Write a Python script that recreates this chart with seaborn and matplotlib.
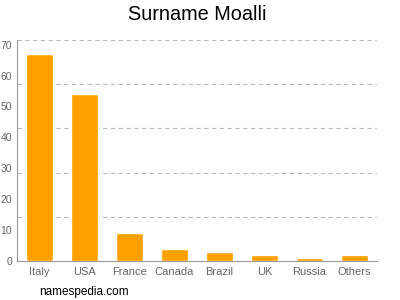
import matplotlib
matplotlib.use("Agg")
import matplotlib.pyplot as plt
import seaborn as sns
import pandas as pd
import numpy as np

countries = ["Italy", "USA", "France", "Canada", "Brazil", "UK", "Russia", "Others"]
counts = [67, 54, 9, 4, 3, 2, 1, 2]
yticks = [0, 10, 20, 30, 40, 50, 60, 70]
ymax = 71.5

sns.set_style("white")
plt.rcParams['font.family'] = ['Liberation Sans', 'DejaVu Sans']

df = pd.DataFrame({"country": countries, "count": counts})

fig = plt.figure(figsize=(4, 3), dpi=100)
ax = fig.add_axes([0.0425, 0.13, 0.9, 0.7367])

sns.barplot(data=df, x="country", y="count", color="#FFA000", saturation=1,
            width=0.62, ax=ax, zorder=3)

ax.set_xlim(-0.5, len(countries) - 0.5)
ax.set_ylim(0, ymax)
ax.set_yticks(yticks)
for g in np.linspace(ymax / 5, ymax, 5):
    ax.axhline(g, color="#BBBBBB", linestyle=(0, (4, 3)), linewidth=0.8, zorder=1)

ax.set_xlabel("")
ax.set_ylabel("")
for s in ["top", "right"]:
    ax.spines[s].set_visible(False)
for s in ["left", "bottom"]:
    ax.spines[s].set_color("#999999")
    ax.spines[s].set_linewidth(0.8)
ax.tick_params(axis="x", colors="#999999", labelcolor="#666666", labelsize=8,
               length=2, width=0.8, pad=2)
ax.tick_params(axis="y", colors="#999999", labelcolor="#666666", labelsize=7.5,
               length=3, width=0.8, pad=0.5)

fig.text(0.4925, 0.953, "Surname Moalli", ha="center", va="center", fontsize=14.3, color="#000000")
fig.text(0.098, 0.027, "namespedia.com", ha="left", va="center", fontsize=8.5, color="#000000")

fig.savefig("out.png", dpi=100)
